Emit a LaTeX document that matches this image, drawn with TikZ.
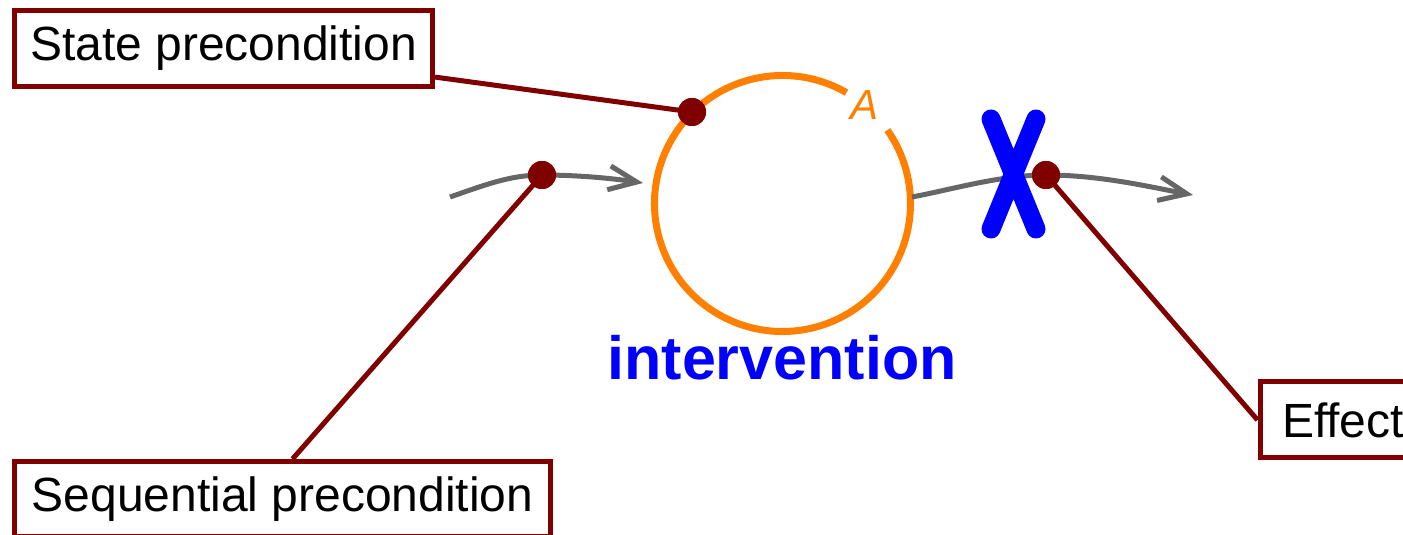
\documentclass[tikz,border=0pt]{standalone}
\usepackage{fontspec}
\setmainfont{Liberation Sans}
\usetikzlibrary{arrows.meta,calc}
\definecolor{leadred}{HTML}{800000}
\definecolor{flowgray}{HTML}{666666}
\definecolor{ringorange}{HTML}{FF8000}
\definecolor{markblue}{HTML}{0000FF}
\begin{document}
\begin{tikzpicture}[x=0.5pt,y=0.5pt,
  labelbox/.style={draw=leadred, line width=2.5pt, fill=white, inner sep=0pt,
    font=\fontsize{24}{28}\selectfont, text=black},
  pin/.style={circle, fill=leadred, inner sep=0pt, minimum size=14pt},
  lead/.style={draw=leadred, line width=2.5pt},
  flow/.style={draw=flowgray, line width=2.5pt,
    -{Straight Barb[length=14pt,width=12pt]}},
]
\useasboundingbox (0,0) rectangle (1403,535);

% the activity ring with its gap for the label A
\node[circle, minimum size=128pt, inner sep=0pt] (ring) at (782.5,331.5) {};
\draw[ringorange, line width=3.5pt]
  ($(ring.center)+(60:64pt)$) arc[start angle=60, end angle=395, radius=64pt];
\node[text=ringorange, font=\fontsize{21}{25}\selectfont\itshape] (alabel) at (864,430) {A};
\node[text=markblue, font=\fontsize{30.5}{36}\selectfont\bfseries, anchor=base]
  (intv) at (782,155) {intervention};

% pins
\node[pin] (stdot) at (692,423) {};
\node[pin] (sqdot) at (542,360) {};
\node[pin] (efdot) at (1046,360) {};

% flow arrows into and out of the activity
\coordinate (inflow) at (450,338);
\coordinate (intip) at (643,352);
\coordinate (outflow) at (912,338);
\coordinate (outtip) at (1193,340);
\draw[flow] (inflow) .. controls (485,350) and (510,360) .. (sqdot.center)
  .. controls (575,360) and (610,357) .. (intip);
\draw[flow] (outflow) .. controls (950,345) and (1000,360) .. (efdot.center)
  .. controls (1100,360) and (1150,348) .. (outtip);

% the blocking cross
\draw[markblue, line width=9.5pt, line cap=round]
  (991,416) -- (1036,306) (1036,416) -- (991,306);

% callout boxes
\node[labelbox, minimum width=209pt, minimum height=38pt] (state) at (223.5,486.5) {State precondition};
\node[labelbox, minimum width=268pt, minimum height=37.5pt] (seq) at (282.5,36) {Sequential precondition};
\node[labelbox, minimum width=83pt, minimum height=38pt] (effect) at (1343,115) {Effect};

% leader lines, pins drawn over their ends
\draw[lead] (state) -- (stdot.center);
\draw[lead] ([xshift=5pt]seq.north) -- (sqdot.center);
\draw[lead] (efdot.center) -- (effect.west);
\node[pin] at (stdot) {};
\node[pin] at (sqdot) {};
\node[pin] at (efdot) {};
\end{tikzpicture}
\end{document}
